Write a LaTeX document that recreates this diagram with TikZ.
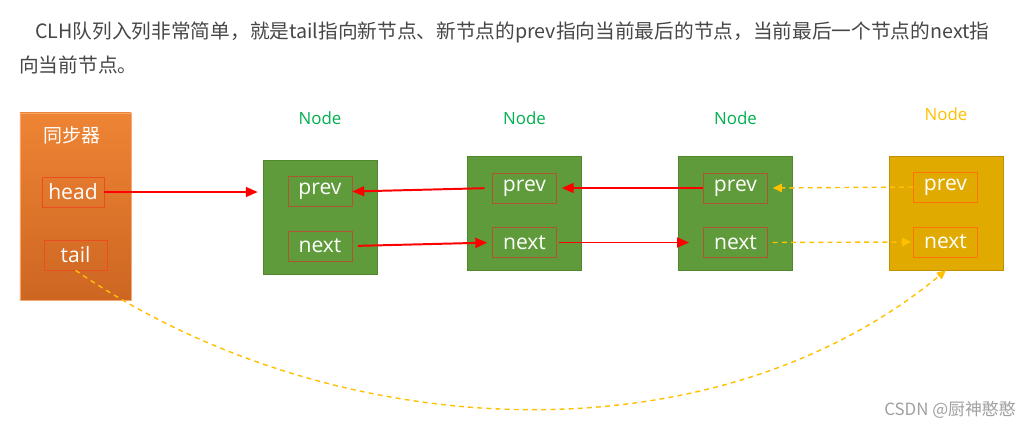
\documentclass[tikz,border=0pt]{standalone}
\usepackage{fontspec}
\setmainfont{Open Sans}
\newfontfamily\cjk{Noto Sans CJK SC}
\usetikzlibrary{arrows.meta,positioning,calc}

\definecolor{txtgray}{RGB}{70,70,70}
\definecolor{nodegreen}{RGB}{95,155,58}
\definecolor{nodegreenline}{RGB}{80,135,45}
\definecolor{labelgreen}{RGB}{0,176,80}
\definecolor{nodeyellow}{RGB}{225,170,0}
\definecolor{labelyellow}{RGB}{255,192,0}
\definecolor{syncorange}{RGB}{238,132,52}
\definecolor{syncorangedark}{RGB}{205,102,34}
\definecolor{fieldred}{RGB}{175,85,50}
\definecolor{syncfield}{RGB}{232,78,30}
\definecolor{wmgray}{RGB}{160,160,160}

\begin{document}
\begin{tikzpicture}[
        x=0.025cm, y=-0.025cm,
        boxsty/.style={
            draw=nodegreenline, fill=nodegreen, minimum width=2.85cm, minimum height=2.85cm,
        },
        fieldsty/.style={
            draw=fieldred, thin, minimum width=1.6cm, minimum height=0.75cm,
            text=white, font=\fontsize{15}{17}\selectfont, inner sep=0pt,
        },
        labelsty/.style={
            text=labelgreen, font=\fontsize{12}{14}\selectfont,
        },
        reflinesty/.style={
            red, line width=1.4pt, -{Triangle[length=8.5pt,width=7pt]}
        },
        newlinesty/.style={
            labelyellow, line width=1pt, dash pattern=on 3.5pt off 3pt,
            -{Triangle[length=6.5pt,width=6pt]}
        }
    ]
    \useasboundingbox (0,0) rectangle (1032,428);

    % text above the picture
    \node[anchor=west, inner sep=0pt, text=txtgray, font=\cjk\fontsize{14}{16}\selectfont] (line1) at (35,32)
        {CLH队列入列非常简单，就是tail指向新节点、新节点的prev指向当前最后的节点，当前最后一个节点的next指};
    \node[anchor=west, inner sep=0pt, text=txtgray, font=\cjk\fontsize{14}{16}\selectfont] (line2) at (19,65)
        {向当前节点{\addfontfeatures{RawFeature=+halt}。}};

    % synchronizer
    \node[draw=syncorange!70!white, top color=syncorange, bottom color=syncorangedark,
          minimum width=2.775cm, minimum height=4.675cm] (sync) at (75.5,206.5) {};
    \node[text=white, font=\cjk\fontsize{13.5}{15}\selectfont] (synctitle) at (72,135) {同步器};
    \node[fieldsty, draw=syncfield, minimum width=1.55cm] (head) at (73,192) {head};
    \node[fieldsty, draw=syncfield, minimum width=1.575cm] (tail) at (75.5,255) {tail};

    % nodes of the queue
    \foreach \i/\x/\y in {1/320/217, 2/524.5/213.5, 3/735.5/213.5}{
        \node[boxsty] (node\i) at (\x,\y) {};
        \node[fieldsty] (prev\i) at (\x,\y-25.5) {prev};
        \node[fieldsty] (next\i) at (\x,\y+29) {next};
        \node[labelsty] (lbl\i) at (\x,118) {Node};
    }
    \node[boxsty, draw=nodeyellow!85!black, fill=nodeyellow] (node4) at (946,213) {};
    \node[fieldsty, draw=orange!90!red] (prev4) at (945.5,187) {prev};
    \node[fieldsty, draw=orange!90!red] (next4) at (945.5,242) {next};
    \node[labelsty, text=labelyellow] (lbl4) at (946,114) {Node};

    % links
    \draw[reflinesty, shorten >=3.5pt] (head.east) -- (head.east -| node1.west);
    \draw[reflinesty, shorten <=5.5pt] (prev2.west) -- (prev1.east);
    \draw[reflinesty, shorten <=4pt, shorten >=3.5pt] (next1.east) -- (next2.west);
    \draw[reflinesty, shorten >=3.5pt] (prev3.west) -- (prev2.east);
    \draw[reflinesty, shorten <=1.5pt, shorten >=10pt] (next2.east) -- (next3.west);

    % new node
    \draw[newlinesty, shorten >=3.5pt] (prev4.west) -- (prev3.east);
    \draw[newlinesty, shorten <=3.5pt, shorten >=1.5pt] (next3.east) -- (next4.west);
    \draw[newlinesty] (tail.south) .. controls (330,445) and (710,465) .. (node4.south);

    \node[anchor=east, inner sep=0pt, text=wmgray, font=\cjk\fontsize{12}{14}\selectfont] (mark) at (1016,410)
        {CSDN @厨神憨憨};
\end{tikzpicture}
\end{document}
